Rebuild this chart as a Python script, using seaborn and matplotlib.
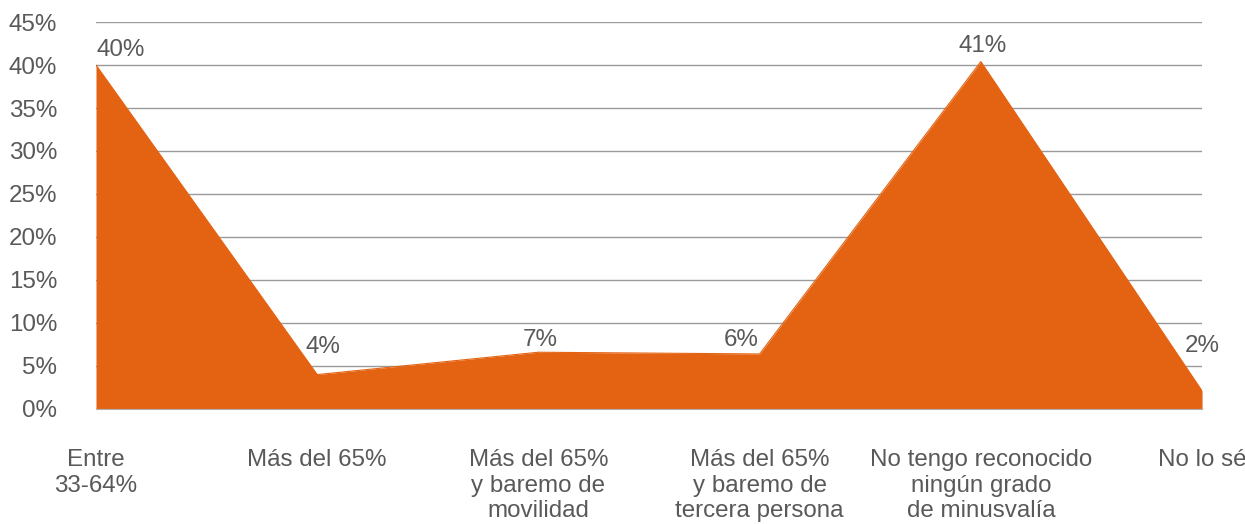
import numpy as np
import matplotlib
matplotlib.use("Agg")
import matplotlib.pyplot as plt
import seaborn as sns

# data
categories = ["Entre\n33-64%", "Más del 65%", "Más del 65%\ny baremo de\nmovilidad",
              "Más del 65%\ny baremo de\ntercera persona",
              "No tengo reconocido\nningún grado\nde minusvalía", "No lo sé"]
values = [40.0, 4.0, 6.6, 6.4, 40.4, 2.1]
value_labels = ["40%", "4%", "7%", "6%", "41%", "2%"]
y_ticks = [0, 5, 10, 15, 20, 25, 30, 35, 40, 45]

orange = "#E46312"
text_grey = "#595959"
fs = 17.4

sns.set_style("white")
plt.rcParams["font.family"] = ["Liberation Sans", "DejaVu Sans"]

fig = plt.figure(figsize=(12.45, 5.24), dpi=100)
ax = fig.add_axes([0.0771, 0.2195, 0.8884, 0.7385])

x = np.arange(len(categories))
ax.fill_between(x, values, 0, color=orange, linewidth=0, zorder=3)
sns.lineplot(x=x, y=values, color=orange, linewidth=0.8, ax=ax, zorder=3)

# value labels above each point (offsets in points, tuned to the reference)
offsets = [(18, 11), (4, 20), (1.5, 8.6), (-13, 10), (1.5, 11.5), (0, 32)]
for xi, v, lab, off in zip(x, values, value_labels, offsets):
    ax.annotate(lab, (xi, v), xytext=off, textcoords="offset points",
                ha="center", va="center", fontsize=fs, color=text_grey,
                zorder=4, annotation_clip=False)

ax.set_xlim(0, len(categories) - 1)
ax.set_ylim(0, 45)
ax.set_yticks(y_ticks)
ax.set_yticklabels([f"{t}%" for t in y_ticks])
ax.set_xticks(x)
ax.set_xticklabels(categories, linespacing=1.2)

ax.yaxis.grid(True, color="#9a9a9a", linewidth=1)
ax.set_axisbelow(True)
for side in ["top", "right", "left"]:
    ax.spines[side].set_visible(False)
ax.spines["bottom"].set_color("#b0b0b0")
ax.spines["bottom"].set_zorder(5)

ax.tick_params(axis="y", length=0, pad=28, labelsize=fs, labelcolor=text_grey)
ax.tick_params(axis="x", length=7, width=1, color="#b0b0b0", direction="out",
               pad=22, labelsize=fs, labelcolor=text_grey)

plt.savefig("out.png", dpi=100)
